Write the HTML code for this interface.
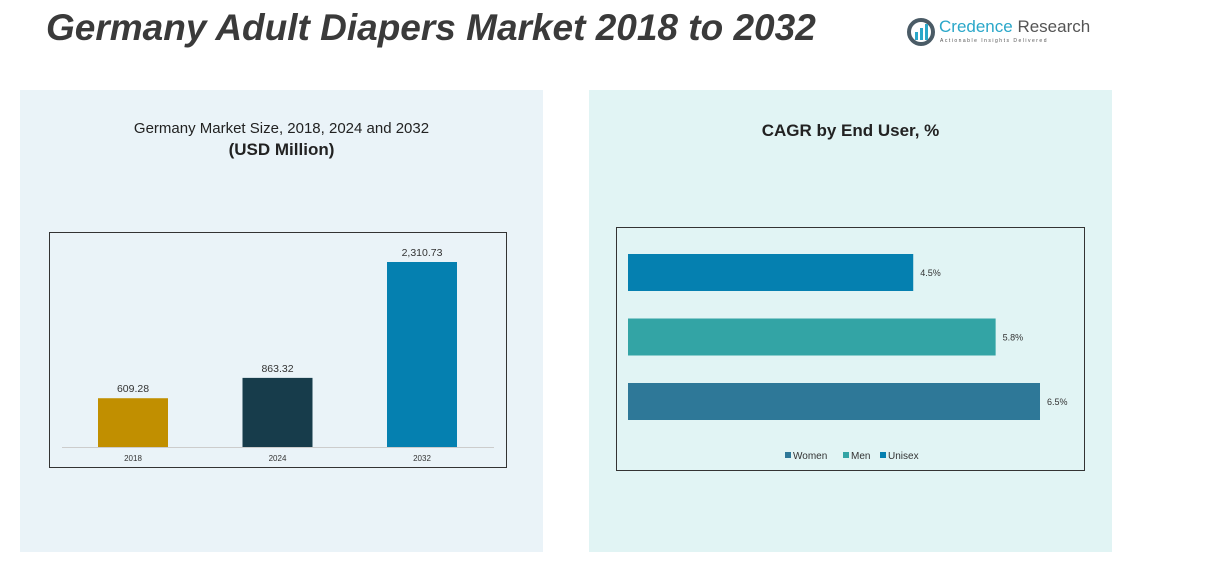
<!DOCTYPE html>
<html><head><meta charset="utf-8"><style>
body{margin:0;width:1213px;height:572px;background:#fff;font-family:"Liberation Sans",sans-serif;overflow:hidden;position:relative}
.abs{position:absolute}
</style></head><body>
<div class="abs" style="left:46px;top:7px;font-size:37px;font-weight:bold;font-style:italic;color:#3a3a3a">Germany Adult Diapers Market 2018 to 2032</div>
<div class="abs" style="left:907px;top:16px;width:190px;height:32px">
<svg width="30" height="30" style="position:absolute;left:0;top:2px"><circle cx="14" cy="14" r="12" fill="none" stroke="#4a5b66" stroke-width="4"/><rect x="8" y="14" width="3" height="8" fill="#2aa7c9"/><rect x="13" y="10" width="3" height="12" fill="#2aa7c9"/><rect x="18" y="6" width="3" height="16" fill="#2aa7c9"/></svg>
<div class="abs" style="left:32px;top:1px;font-size:17px;color:#2aa7c9;white-space:nowrap">Credence <span style="color:#555">Research</span></div>
<div class="abs" style="left:33px;top:22px;font-size:5px;letter-spacing:1.5px;color:#555;white-space:nowrap">Actionable Insights Delivered</div>
</div>
<div class="abs" style="left:20px;top:90px;width:523px;height:462px;background:#eaf3f8"></div>
<div class="abs" style="left:589px;top:90px;width:523px;height:462px;background:#e1f4f4"></div>
<div class="abs" style="left:20px;top:120px;width:523px;text-align:center;font-size:15px;color:#222">Germany Market Size, 2018, 2024 and 2032<br><b style="font-size:17px;line-height:26px">(USD Million)</b></div>
<div class="abs" style="left:589px;top:121px;width:523px;text-align:center;font-size:17px;font-weight:bold;color:#222">CAGR by End User, %</div>
<svg class="abs" style="left:0;top:0" width="1213" height="572" id="svg"></svg>
<script>
const years=["2018","2024","2032"];
const sizes=[609.28,863.32,2310.73];
const sizeLabels=["609.28","863.32","2,310.73"];
const users=["Unisex","Men","Women"];
const cagr=[4.5,5.8,6.5];
const cagrLabels=["4.5%","5.8%","6.5%"];
const userColors=["#0580b0","#33a4a5","#2e7898"];
const yearColors=["#c18f00","#173c4b","#0580b0"];
const NS="http://www.w3.org/2000/svg";
const svg=document.getElementById('svg');
function mk(t,a,txt){const e=document.createElementNS(NS,t);for(const k in a)e.setAttribute(k,a[k]);if(txt!=null)e.textContent=txt;svg.appendChild(e);return e;}
let f=mk('rect',{x:49.5,y:232.5,width:457,height:235,fill:'none',stroke:'#333'});

let ax=mk('line',{x1:62,y1:447.5,x2:494,y2:447.5,stroke:'#ccc'});

const base=447, yScale=v=>v*185/2310.73, xc=i=>133+i*144.5;
years.forEach((y,i)=>{
 const h=yScale(sizes[i]);
 const r=mk('rect',{x:xc(i)-35,y:base-h,width:70,height:h,fill:yearColors[i]});
 
 const l=mk('text',{x:xc(i),y:base-h-6,'text-anchor':'middle','font-size':10.5,fill:'#333'},sizeLabels[i]);
 
 const t=mk('text',{x:xc(i),y:461,'text-anchor':'middle','font-size':8,fill:'#333'},y);
 
});
let f2=mk('rect',{x:616.5,y:227.5,width:468,height:243,fill:'none',stroke:'#333'});

const x0=628, xS=v=>v*412/6.5;
users.forEach((u,i)=>{
 const y=254+i*64.5;
 const r=mk('rect',{x:x0,y:y,width:xS(cagr[i]),height:37,fill:userColors[i]});
 
 const l=mk('text',{x:x0+xS(cagr[i])+7,y:y+22,'font-size':9,fill:'#333'},cagrLabels[i]);
 
});
const leg=[["Women","#2e7898",785],["Men","#33a4a5",843],["Unisex","#0580b0",880]];
leg.forEach(g=>{
 const s=mk('rect',{x:g[2],y:452,width:6,height:6,fill:g[1]});
 
 const t=mk('text',{x:g[2]+8,y:459,'font-size':10,fill:'#333'},g[0]);
 
});
</script>
</body></html>
